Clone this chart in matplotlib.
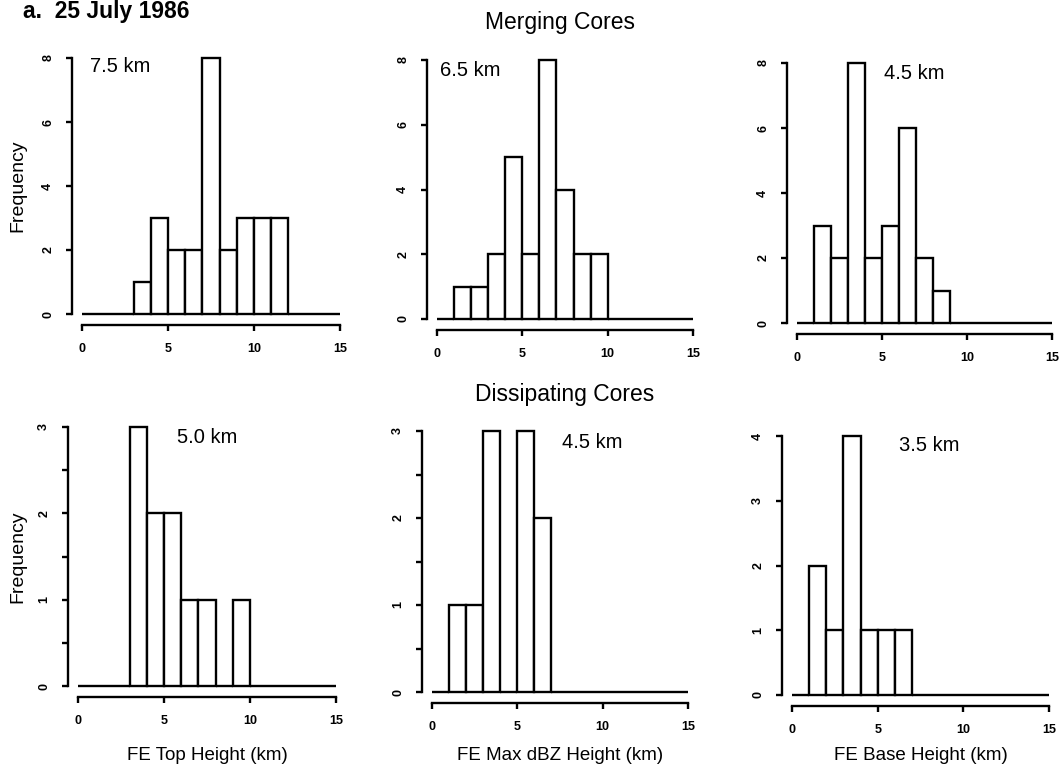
import matplotlib
matplotlib.use("Agg")
import matplotlib.pyplot as plt
import numpy as np

plt.rcParams['font.family'] = ['Liberation Sans', 'DejaVu Sans']

W, H = 1063, 776

# ---- data (bin counts for 1-km bins from 0 to 15 km) ----
bin_edges = list(range(0, 16))
merging_top = [0, 0, 0, 1, 3, 2, 2, 8, 2, 3, 3, 3, 0, 0, 0]
merging_maxdbz = [0, 1, 1, 2, 5, 2, 8, 4, 2, 2, 0, 0, 0, 0, 0]
merging_base = [0, 3, 2, 8, 2, 3, 6, 2, 1, 0, 0, 0, 0, 0, 0]
dissip_top = [0, 0, 0, 3, 2, 2, 1, 1, 0, 1, 0, 0, 0, 0, 0]
dissip_maxdbz = [0, 1, 1, 3, 0, 3, 2, 0, 0, 0, 0, 0, 0, 0, 0]
dissip_base = [0, 2, 1, 4, 1, 1, 1, 0, 0, 0, 0, 0, 0, 0, 0]

median_labels = ["7.5 km", "6.5 km", "4.5 km", "5.0 km", "4.5 km", "3.5 km"]
x_labels = ["FE Top Height (km)", "FE Max dBZ Height (km)", "FE Base Height (km)"]
x_ticks = [0, 5, 10, 15]
y_ticks_top = [0, 2, 4, 6, 8]
y_ticks_bot = [[0, 0.5, 1, 1.5, 2, 2.5, 3], [0, 0.5, 1, 1.5, 2, 2.5, 3], [0, 1, 2, 3, 4]]

series = [merging_top, merging_maxdbz, merging_base, dissip_top, dissip_maxdbz, dissip_base]

# ---- layout (pixel boxes: x0, x15, y_zero, y_top) ----
boxes = [
    (82, 340, 314, 58),
    (437, 693, 319, 60),
    (797, 1052, 323, 63),
    (78, 336, 686, 427),
    (432, 688, 692, 431),
    (792, 1049, 695, 436),
]
ann_pos = [(0.47, 7.75), (0.18, 7.69), (5.1, 7.69), (5.76, 2.88), (7.6, 2.87), (6.25, 3.85)]

fig = plt.figure(figsize=(W / 100, H / 100), dpi=100)
lw = 1.7

for i, (counts, box) in enumerate(zip(series, boxes)):
    x0, x1, yz, yt = box
    ax = fig.add_axes([x0 / W, 1 - yz / H, (x1 - x0) / W, (yz - yt) / H])
    yticks = y_ticks_top if i < 3 else y_ticks_bot[i - 3]
    ymax = yticks[-1]
    lefts = np.array(bin_edges[:-1])
    ax.bar(lefts, counts, width=1, align='edge', facecolor='white',
           edgecolor='black', linewidth=lw, clip_on=False)
    ax.set_xlim(0, 15)
    ax.set_ylim(0, ymax)
    for s in ['top', 'right']:
        ax.spines[s].set_visible(False)
    ax.spines['left'].set_position(('outward', 7))
    ax.spines['bottom'].set_position(('outward', 8))
    ax.spines['left'].set_bounds(0, ymax)
    ax.spines['bottom'].set_bounds(0, 15)
    ax.spines['left'].set_linewidth(lw)
    ax.spines['bottom'].set_linewidth(lw)
    ax.set_xticks(x_ticks)
    ax.set_xticklabels([str(t) for t in x_ticks], fontsize=9, fontweight='bold')
    ax.set_yticks(yticks)
    ax.set_yticklabels([(str(int(t)) if float(t).is_integer() else '') for t in yticks],
                       fontsize=9, fontweight='bold', rotation=90, va='center')
    ax.tick_params(axis='both', direction='out', length=4, width=lw)
    ax.tick_params(axis='x', pad=9)
    ax.tick_params(axis='y', pad=9)
    ax.patch.set_alpha(0)
    ax.text(ann_pos[i][0], ann_pos[i][1], median_labels[i], fontsize=14.5,
            ha='left', va='center')
    if i % 3 == 0:
        ycen = (yz + yt) / 2
        fig.text(18 / W, 1 - ycen / H, "Frequency", rotation=90, fontsize=14,
                 ha='center', va='center')
    if i >= 3:
        fig.text(((x0 + x1) / 2) / W, 1 - 755 / H, x_labels[i - 3], fontsize=13.5,
                 ha='center', va='center')

fig.text(23 / W, 1 - 18 / H, "a.  25 July 1986", fontsize=16.5, fontweight='bold',
         ha='left', va='baseline')
fig.text(560 / W, 1 - 22 / H, "Merging Cores", fontsize=16.5, ha='center', va='center')
fig.text(565 / W, 1 - 395 / H, "Dissipating Cores", fontsize=16.5, ha='center', va='center')

fig.savefig("out.png", dpi=100, facecolor='white')
